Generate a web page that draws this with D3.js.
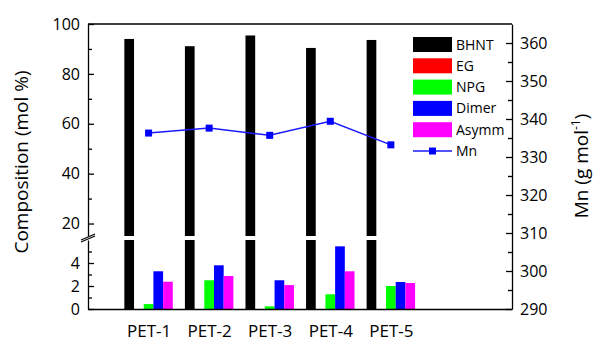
<!DOCTYPE html>
<html>
<head>
<meta charset="utf-8">
<script src="https://cdn.jsdelivr.net/npm/d3@7"></script>
<style>
  body { margin: 0; background: #fff; }
  svg text { font-family: "Open Sans", sans-serif; fill: #000; }
</style>
</head>
<body>
<svg id="chart" width="595" height="341"></svg>
<script>
// data
const samples = ['PET-1', 'PET-2', 'PET-3', 'PET-4', 'PET-5']
const components = ['BHNT', 'EG', 'NPG', 'Dimer', 'Asymm']
const colors = ['#000000', '#ff0000', '#00ff00', '#0000ff', '#ff00ff']
const bhnt = [94.0, 91.1, 95.4, 90.4, 93.6]
const eg = [0, 0, 0, 0, 0]
const npg = [0.43, 2.5, 0.23, 1.28, 2.0]
const dimer = [3.28, 3.8, 2.5, 5.45, 2.35]
const asymm = [2.37, 2.87, 2.08, 3.28, 2.26]
const mn = [336.3, 337.6, 335.7, 339.4, 333.2]

const seriesValues = [bhnt, eg, npg, dimer, asymm]

const $svg = d3.select('#chart')

const plotLeft = 88, plotRight = 512, plotTop = 24, plotBottom = 309
const breakLow = 240, breakHigh = 236

const scaleX = d3.scaleLinear().domain([0, 7]).range([plotLeft, plotRight])
const yLow = d3.scaleLinear().domain([0, 6]).range([plotBottom, breakLow])
const yUp = d3.scaleLinear().domain([15, 100]).range([breakHigh, plotTop])
const yMn = d3.scaleLinear().domain([290, 365]).range([plotBottom, plotTop])

const barW = 0.16 // in x units
const fmt = d3.format('d')

// bars
const $bars = $svg.append('g').attr('class', 'g-bars')
seriesValues.forEach((vals, si) => {
	vals.forEach((v, i) => {
		const x0 = scaleX(i + 1 - 2.5 * barW + si * barW)
		const w = scaleX(barW) - scaleX(0)
		// lower segment
		const lowTop = Math.min(v, 6)
		if (lowTop > 0) {
			$bars.append('rect')
				.attr('x', x0).attr('width', w)
				.attr('y', yLow(lowTop))
				.attr('height', yLow(0) - yLow(lowTop))
				.attr('fill', colors[si])
		}
		// upper segment
		if (v > 15) {
			$bars.append('rect')
				.attr('x', x0).attr('width', w)
				.attr('y', yUp(v))
				.attr('height', yUp(15) - yUp(v))
				.attr('fill', colors[si])
		}
	})
})

// axes
function styleAxis(g) {
	g.selectAll('path, line').attr('stroke', '#000').attr('stroke-width', 1.3)
	g.selectAll('text').style('font-size', '16px').attr('fill', '#000')
}

// left, upper part
$svg.append('g')
	.attr('transform', `translate(${plotLeft},0)`)
	.call(d3.axisLeft(yUp).tickValues([20, 40, 60, 80, 100]).tickFormat(fmt).tickSizeInner(-6).tickSizeOuter(0).tickPadding(8))
	.call(styleAxis)
$svg.append('g')
	.attr('transform', `translate(${plotLeft},0)`)
	.call(d3.axisLeft(yUp).tickValues([30, 50, 70, 90]).tickSize(-4).tickFormat(''))
	.call(g => g.select('.domain').remove())
	.call(styleAxis)

// left, lower part
$svg.append('g')
	.attr('transform', `translate(${plotLeft},0)`)
	.call(d3.axisLeft(yLow).tickValues([0, 2, 4]).tickFormat(fmt).tickSizeInner(-6).tickSizeOuter(0).tickPadding(8))
	.call(styleAxis)
$svg.append('g')
	.attr('transform', `translate(${plotLeft},0)`)
	.call(d3.axisLeft(yLow).tickValues([1, 3, 5]).tickSize(-4).tickFormat(''))
	.call(g => g.select('.domain').remove())
	.call(styleAxis)

// break marks
const $brk = $svg.append('g')
;[breakHigh + 1, breakLow - 1].forEach(yy => {
	$brk.append('line')
		.attr('x1', plotLeft - 7).attr('y1', yy + 3)
		.attr('x2', plotLeft + 7).attr('y2', yy - 3)
		.attr('stroke', '#000').attr('stroke-width', 1.3)
})

// right axis (Mn)
$svg.append('g')
	.attr('transform', `translate(${plotRight},0)`)
	.call(d3.axisRight(yMn).tickValues(d3.range(290, 361, 10)).tickFormat(fmt).tickSizeInner(-6).tickSizeOuter(0).tickPadding(8))
	.call(styleAxis)
$svg.append('g')
	.attr('transform', `translate(${plotRight},0)`)
	.call(d3.axisRight(yMn).tickValues(d3.range(295, 365, 10)).tickSize(-4).tickFormat(''))
	.call(g => g.select('.domain').remove())
	.call(styleAxis)

// bottom axis
$svg.append('g')
	.attr('transform', `translate(0,${plotBottom})`)
	.call(d3.axisBottom(scaleX).tickValues([1, 2, 3, 4, 5]).tickFormat((d, i) => samples[i]).tickSize(0).tickPadding(16))
	.call(styleAxis)
	.call(g => g.selectAll('text').style('font-size', '17px'))

// top frame line
$svg.append('line')
	.attr('x1', plotLeft).attr('x2', plotRight)
	.attr('y1', plotTop).attr('y2', plotTop)
	.attr('stroke', '#000').attr('stroke-width', 1.3)

// Mn line
const line = d3.line()
	.x((d, i) => scaleX(i + 1))
	.y(d => yMn(d))
$svg.append('path')
	.datum(mn)
	.attr('d', line)
	.attr('fill', 'none')
	.attr('stroke', '#1a1aff')
	.attr('stroke-width', 1.5)
$svg.append('g')
	.selectAll('rect')
	.data(mn)
	.join('rect')
	.attr('x', (d, i) => scaleX(i + 1) - 3.5)
	.attr('y', d => yMn(d) - 3.5)
	.attr('width', 7).attr('height', 7)
	.attr('fill', '#0000ff')

// axis titles
$svg.append('text')
	.attr('transform', 'translate(28,162) rotate(-90)')
	.attr('text-anchor', 'middle')
	.style('font-size', '19px')
	.text('Composition (mol %)')

const $mnTitle = $svg.append('text')
	.attr('transform', 'translate(588,166) rotate(-90)')
	.attr('text-anchor', 'middle')
	.style('font-size', '19px')
$mnTitle.append('tspan').text('Mn (g mol')
$mnTitle.append('tspan').attr('dy', -8).style('font-size', '12px').text('-1')
$mnTitle.append('tspan').attr('dy', 8).text(')')

// legend
const $legend = $svg.append('g').attr('transform', 'translate(413,37)')
components.forEach((c, i) => {
	const $row = $legend.append('g').attr('transform', `translate(0,${i * 21.3})`)
	$row.append('rect')
		.attr('width', 39).attr('height', 15)
		.attr('fill', colors[i])
	$row.append('text')
		.attr('x', 43).attr('y', 12.5)
		.style('font-size', '14px')
		.text(c)
})
const $mnRow = $legend.append('g').attr('transform', `translate(0,${5 * 21.3})`)
$mnRow.append('line')
	.attr('x1', 0).attr('x2', 39).attr('y1', 7.5).attr('y2', 7.5)
	.attr('stroke', '#1a1aff').attr('stroke-width', 1.5)
$mnRow.append('rect')
	.attr('x', 16).attr('y', 4).attr('width', 7).attr('height', 7)
	.attr('fill', '#0000ff')
$mnRow.append('text')
	.attr('x', 43).attr('y', 12.5)
	.style('font-size', '14px')
	.text('Mn')
</script>
</body>
</html>
